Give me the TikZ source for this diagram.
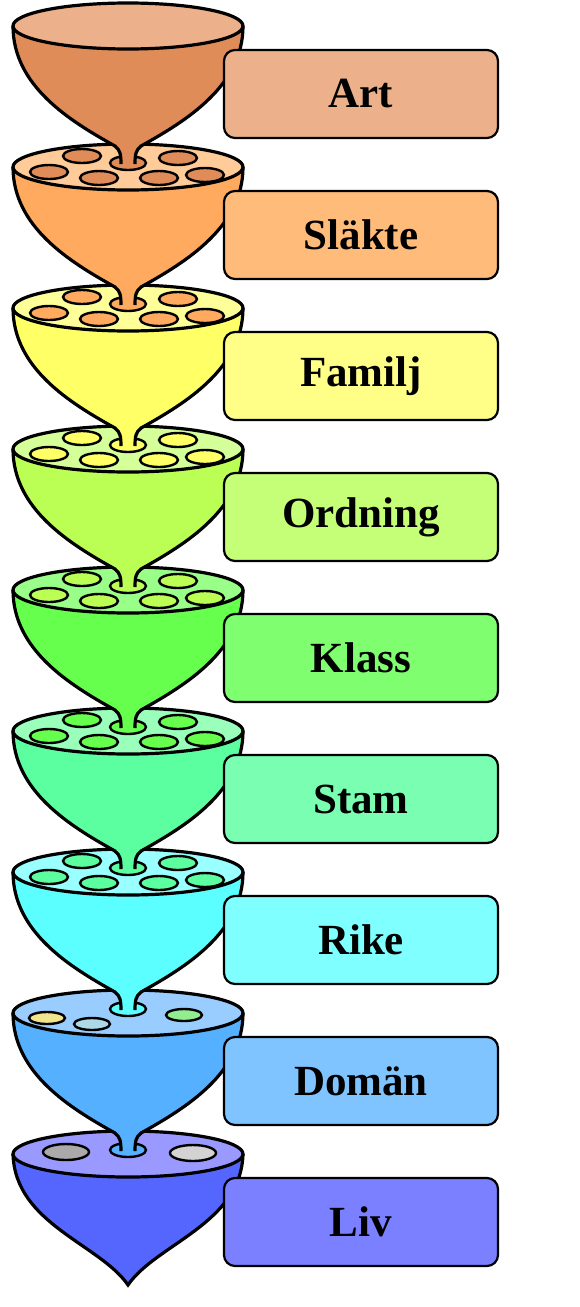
\documentclass[tikz,border=0pt]{standalone}
\usepackage{fontspec}
\setmainfont{Liberation Serif}
\begin{document}
\begin{tikzpicture}[x=1pt,y=-1pt,line width=3.2pt,
 box/.style={draw,rounded corners=11pt,minimum width=274pt,minimum height=88pt,font=\fontsize{43}{46}\selectfont\bfseries,line width=2.2pt},
 hole/.style={draw,line width=2.4pt}]
\useasboundingbox (0,0) rectangle (579,1307);
\def\names{{"Art","Släkte","Familj","Ordning","Klass","Stam","Rike","Domän","Liv"}}
\definecolor{r1}{HTML}{ECB08A}\definecolor{b1}{HTML}{E08C58}\definecolor{x1}{HTML}{ECB08A}
\definecolor{r2}{HTML}{FFCC99}\definecolor{b2}{HTML}{FFAA5E}\definecolor{x2}{HTML}{FFBB7A}
\definecolor{r3}{HTML}{FFFF99}\definecolor{b3}{HTML}{FFFF66}\definecolor{x3}{HTML}{FFFF88}
\definecolor{r4}{HTML}{D4FF99}\definecolor{b4}{HTML}{BBFF55}\definecolor{x4}{HTML}{C4FF77}
\definecolor{r5}{HTML}{99FF88}\definecolor{b5}{HTML}{66FF4D}\definecolor{x5}{HTML}{7FFF70}
\definecolor{r6}{HTML}{99FFBB}\definecolor{b6}{HTML}{5CFFA0}\definecolor{x6}{HTML}{7AFFB2}
\definecolor{r7}{HTML}{99FFFF}\definecolor{b7}{HTML}{5CFFFF}\definecolor{x7}{HTML}{7FFFFF}
\definecolor{r8}{HTML}{99CCFF}\definecolor{b8}{HTML}{55B0FF}\definecolor{x8}{HTML}{80C4FF}
\definecolor{r9}{HTML}{9999FF}\definecolor{b9}{HTML}{5566FF}\definecolor{x9}{HTML}{7A80FF}
% funnels bottom to top
\foreach \k in {9,8,...,1}{
 \pgfmathsetmacro{\c}{26+(\k-1)*141}
 \pgfmathtruncatemacro{\p}{\k-1}
 \ifnum\k=9
  \fill[b9] (13,\c) .. controls (15,\c+70) and (100,\c+90) .. (128,\c+131) .. controls (156,\c+90) and (241,\c+70) .. (243,\c) -- cycle;
  \draw (13,\c) .. controls (15,\c+70) and (100,\c+90) .. (128,\c+131) .. controls (156,\c+90) and (241,\c+70) .. (243,\c);
 \else
  \fill[b\k] (13,\c) .. controls (13,\c+60) and (70,\c+95) .. (115,\c+120) .. controls (120,\c+124) and (121,\c+128) .. (121,\c+137) -- (135,\c+137) .. controls (135,\c+128) and (136,\c+124) .. (141,\c+120) .. controls (186,\c+95) and (243,\c+60) .. (243,\c) -- cycle;
  \draw (13,\c) .. controls (13,\c+60) and (70,\c+95) .. (115,\c+120) .. controls (120,\c+124) and (121,\c+128) .. (121,\c+138);
  \draw (243,\c) .. controls (243,\c+60) and (186,\c+95) .. (141,\c+120) .. controls (136,\c+124) and (135,\c+128) .. (135,\c+138);
 \fi
 \draw[fill=r\k] (128,\c) ellipse[x radius=115,y radius=23];
 \ifnum\k>1
  \ifnum\k<8
   \foreach \dx/\dy in {82/-11,178/-9,49/5,99/11,159/11,205/8}
     \draw[hole,fill=b\p] (\dx,\c+\dy) ellipse[x radius=19,y radius=7];
  \fi
  \ifnum\k=8
   \draw[hole,fill={rgb,255:red,240;green,228;blue,140}] (47,\c+5) ellipse[x radius=18,y radius=6];
   \draw[hole,fill={rgb,255:red,173;green,216;blue,230}] (92,\c+11) ellipse[x radius=18,y radius=6];
   \draw[hole,fill={rgb,255:red,144;green,238;blue,144}] (184,\c+2) ellipse[x radius=18,y radius=6];
  \fi
  \ifnum\k=9
   \draw[hole,fill={rgb,255:red,170;green,170;blue,170}] (66,\c+-2) ellipse[x radius=23,y radius=8];
   \draw[hole,fill={rgb,255:red,211;green,211;blue,211}] (193,\c+-1) ellipse[x radius=23,y radius=8];
  \fi
  \draw[hole,fill=b\p] (128,\c-4) ellipse[x radius=18,y radius=7];
 \fi
}
% boxes
\foreach \k in {1,...,9}{
 \pgfmathsetmacro{\y}{94+(\k-1)*141}
 \pgfmathsetmacro{\t}{\names[\k-1]}
 \node[box,fill=x\k] (n\k) at (361,\y) {\t};
}
\end{tikzpicture}
\end{document}
